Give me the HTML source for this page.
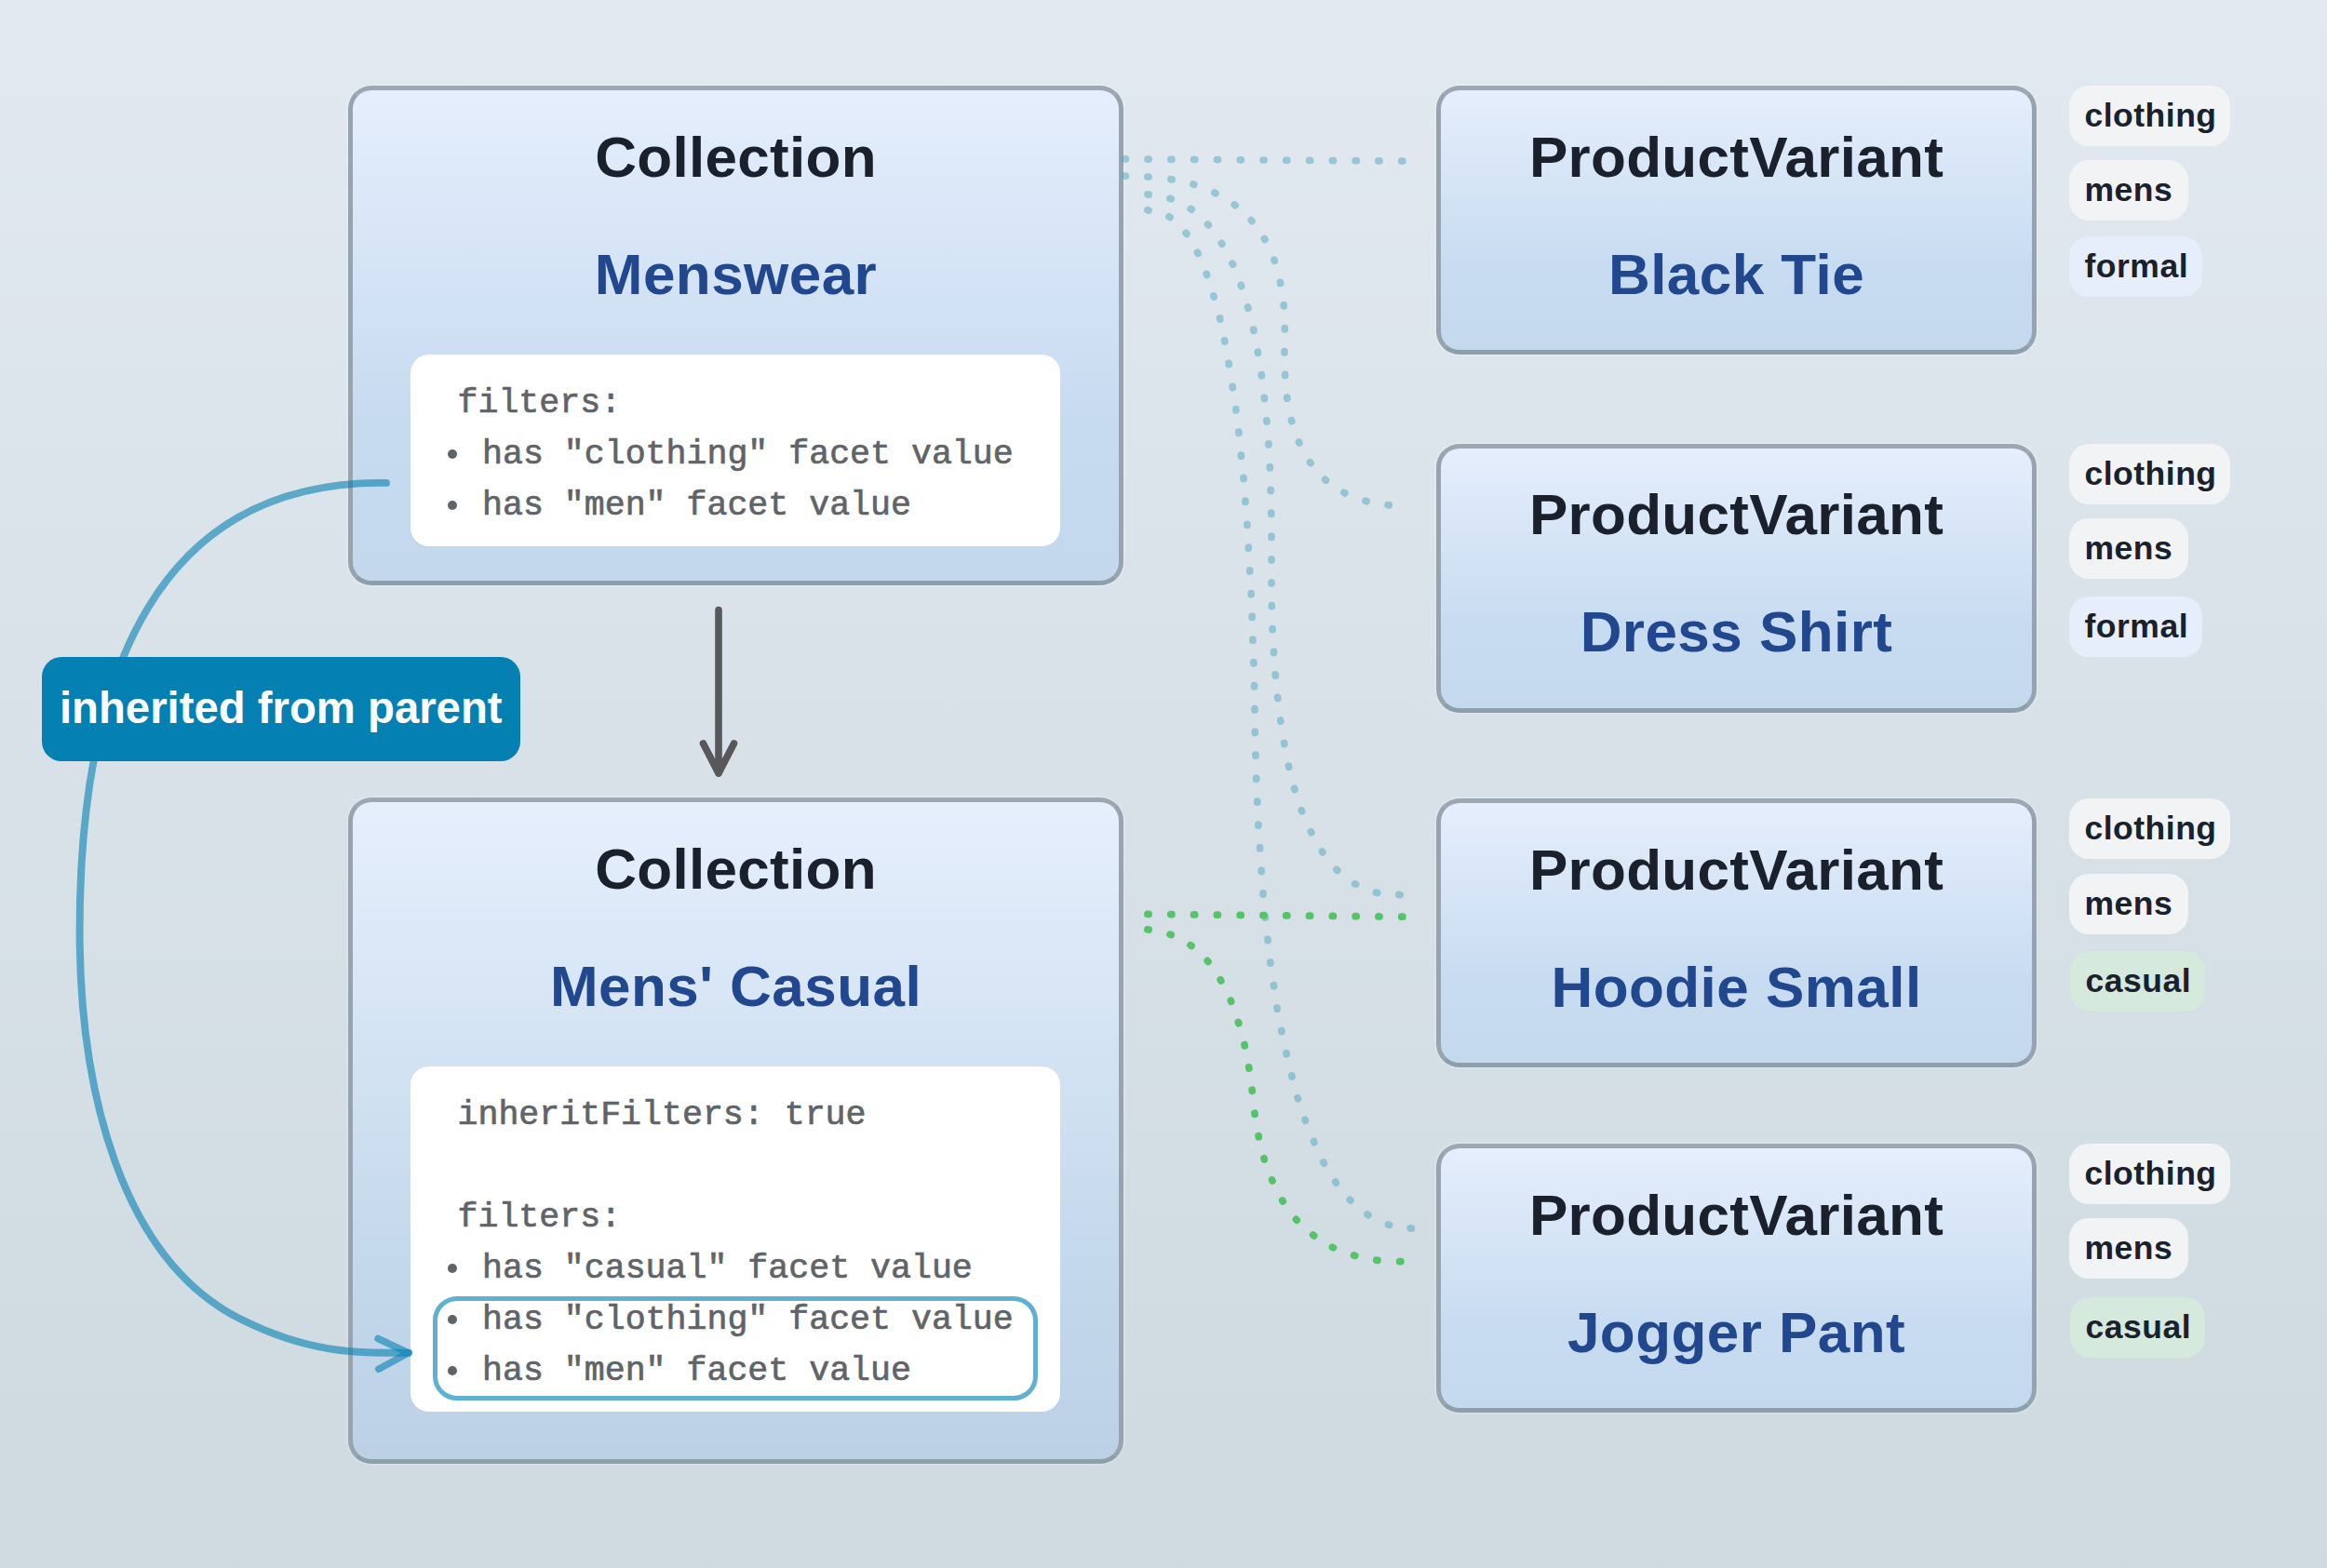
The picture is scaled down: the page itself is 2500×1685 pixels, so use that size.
<!DOCTYPE html>
<html><head><meta charset="utf-8"><title>Collection filter inheritance</title>
<style>
html,body{margin:0;padding:0}
body{width:2500px;height:1685px;position:relative;overflow:hidden;
 background:linear-gradient(to bottom,#e2e9f0 0%,#ced9e0 100%);
 font-family:"Liberation Sans",sans-serif}
.box{position:absolute;box-sizing:border-box;border:5px solid #97a4af;border-top-color:#9ba8b3;border-bottom-color:#8e9fac;border-radius:25px;
 background:linear-gradient(to bottom,#e5eefc 0%,#c7dbf0 67%,#c3d7ed 100%);box-shadow:0 0 2px 1px rgba(255,255,255,.35)}
.coll{left:374px;width:833px}
.coll.c2{background:linear-gradient(to bottom,#e6effc 0%,#c5d9ec 67%,#bcd1e6 100%)}
.pv{left:1543px;width:645px;height:289px;background:linear-gradient(to bottom,#e5eefc 0%,#c8dcf1 67%,#c4d8ee 100%)}
.h1,.h2{position:absolute;left:0;right:0;text-align:center;font-weight:bold;font-size:62px;line-height:62px;white-space:nowrap;letter-spacing:.3px}
.h1{top:40.8px;color:#1a202c}
.h2{top:166.5px;color:#21478f;letter-spacing:.45px}
.code{position:absolute;left:62px;top:284px;width:698px;box-sizing:border-box;background:#fff;border-radius:20px;
 padding:25px 0 16px;-webkit-text-stroke:.7px #5f6468;font-family:"Liberation Mono",monospace;font-size:36.6px;line-height:55px;color:#5f6468;white-space:pre}
.code div{height:55px;padding-left:50.5px;position:relative}
.code .li{padding-left:77px}
.code .li:before{content:"";position:absolute;left:40px;top:22px;width:10px;height:10px;border-radius:50%;background:#5f6468}
.hl{position:absolute;left:24px;width:650px;height:112px;box-sizing:border-box;border:5px solid #5fb0d1;border-radius:26px}
.tag{position:absolute;left:2223px;height:65px;line-height:64px;box-sizing:border-box;padding:0 0 0 16.5px;letter-spacing:.5px;border-radius:21px;background:#f2f3f4;
 color:#1a202c;font-weight:bold;font-size:35.5px;white-space:nowrap}
.tag.f{background:#e6eefb}
.tag.c{background:#d5e9dc;left:2224px}
.label{position:absolute;left:44.5px;top:706px;width:514.5px;height:112px;border-radius:21px;background:#0580b2;color:#fff;
 font-weight:bold;font-size:47.3px;line-height:109.5px;text-align:center;white-space:nowrap}
svg{position:absolute;left:0;top:0}
</style></head><body>

<div class="box coll " style="top:92px;height:537px">
<div class="h1">Collection</div><div class="h2">Menswear</div>
<div class="code"><div>filters:</div><div class="li">has "clothing" facet value</div><div class="li">has "men" facet value</div></div></div>
<div class="box coll c2" style="top:857px;height:715.5px">
<div class="h1">Collection</div><div class="h2">Mens' Casual</div>
<div class="code"><div>inheritFilters: true</div><div> </div><div>filters:</div><div class="li">has "casual" facet value</div><div class="li">has "clothing" facet value</div><div class="li">has "men" facet value</div><span class="hl" style="top:246.5px"></span></div></div>

<div class="box pv" style="top:92px"><div class="h1">ProductVariant</div><div class="h2">Black Tie</div></div>
<div class="tag " style="top:92px;width:172.5px">clothing</div>
<div class="tag " style="top:172px;width:127.7px">mens</div>
<div class="tag f" style="top:254px;width:143px">formal</div>

<div class="box pv" style="top:476.5px"><div class="h1">ProductVariant</div><div class="h2">Dress Shirt</div></div>
<div class="tag " style="top:476.5px;width:172.5px">clothing</div>
<div class="tag " style="top:557px;width:127.7px">mens</div>
<div class="tag f" style="top:641px;width:143px">formal</div>

<div class="box pv" style="top:858px"><div class="h1">ProductVariant</div><div class="h2">Hoodie Small</div></div>
<div class="tag " style="top:858px;width:172.5px">clothing</div>
<div class="tag " style="top:939px;width:127.7px">mens</div>
<div class="tag c" style="top:1022px;width:145px">casual</div>

<div class="box pv" style="top:1229px"><div class="h1">ProductVariant</div><div class="h2">Jogger Pant</div></div>
<div class="tag " style="top:1229px;width:172.5px">clothing</div>
<div class="tag " style="top:1309px;width:127.7px">mens</div>
<div class="tag c" style="top:1393.5px;width:145px">casual</div>


<svg width="2500" height="1685" viewBox="0 0 2500 1685" fill="none" stroke-linecap="round" stroke-linejoin="round">
<path d="M1208.2 170.9L1209.4 170.9M1233.0 171.1L1234.2 171.1M1257.8 171.3L1259.0 171.3M1282.6 171.4L1283.8 171.5M1307.4 171.6L1308.6 171.6M1332.2 171.8L1333.4 171.8M1357.0 172.0L1358.1 172.0M1381.7 172.2L1382.9 172.2M1406.5 172.4L1407.7 172.4M1431.3 172.5L1432.5 172.6M1456.1 172.7L1457.3 172.7M1480.9 172.9L1482.1 172.9M1505.7 173.1L1506.9 173.1M1208.2 189.1L1209.4 189.1M1232.9 190.0L1234.1 190.0M1257.9 192.7L1259.1 192.9M1281.7 197.9L1282.9 198.3M1304.9 207.1L1305.9 207.7M1326.2 219.9L1327.2 220.7M1344.2 236.6L1345.0 237.6M1358.4 256.5L1359.0 257.5M1368.9 279.2L1369.3 280.4M1375.4 303.3L1375.6 304.5M1379.1 327.7L1379.3 328.9M1380.3 352.7L1380.3 353.9M1380.0 377.7L1380.0 378.9M1380.6 402.4L1380.6 403.6M1382.7 427.1L1382.9 428.3M1387.4 451.5L1387.8 452.7M1395.5 474.9L1395.9 475.9M1407.5 496.8L1408.1 497.8M1423.7 515.4L1424.5 516.2M1443.8 529.3L1444.8 529.9M1467.0 538.3L1468.2 538.7M1491.1 542.7L1492.3 542.9M1232.9 208.9L1234.1 209.1M1257.0 213.3L1258.2 213.7M1279.3 224.5L1280.3 225.1M1297.6 241.2L1298.4 242.0M1312.3 261.3L1312.9 262.3M1323.9 283.2L1324.5 284.2M1333.2 306.4L1333.6 307.6M1340.5 330.0L1340.9 331.2M1346.8 354.1L1347.0 355.3M1351.3 378.2L1351.5 379.4M1355.2 402.7L1355.4 403.9M1358.3 427.4L1358.5 428.6M1360.8 451.8L1361.0 453.0M1362.9 476.8L1362.9 478.0M1364.3 501.7L1364.3 502.9M1365.1 526.4L1365.1 527.6M1365.7 551.2L1365.7 552.4M1366.0 576.2L1366.0 577.4M1366.0 600.9L1366.0 602.1M1366.0 625.8L1366.0 627.0M1366.3 650.5L1366.3 651.7M1367.1 675.5L1367.1 676.7M1368.5 700.2L1368.5 701.4M1370.1 724.9L1370.3 726.1M1372.6 749.3L1372.8 750.5M1375.7 774.0L1375.9 775.2M1379.6 798.5L1379.8 799.7M1384.4 823.1L1384.6 824.3M1390.5 847.3L1390.9 848.5M1398.3 870.6L1398.7 871.8M1408.3 893.7L1408.9 894.7M1420.4 915.0L1421.0 916.0M1436.0 934.5L1436.8 935.3M1455.6 949.7L1456.6 950.3M1478.5 959.2L1479.7 959.4M1502.9 961.5L1504.1 961.7M1232.9 225.7L1234.1 226.1M1256.0 232.9L1257.0 233.5M1274.1 250.4L1274.9 251.4M1286.5 271.4L1287.1 272.4M1296.2 294.3L1296.6 295.5M1303.8 317.9L1304.2 319.1M1310.6 342.0L1310.8 343.2M1315.6 365.9L1315.8 367.1M1320.1 390.3L1320.3 391.5M1324.1 415.3L1324.3 416.5M1327.7 439.7L1327.9 440.9M1330.8 464.1L1331.0 465.3M1333.3 489.1L1333.5 490.3M1335.9 513.5L1336.1 514.7M1337.9 538.2L1337.9 539.4M1339.9 563.3L1339.9 564.5M1341.3 588.0L1341.3 589.2M1342.7 612.9L1342.7 614.1M1344.1 637.6L1344.1 638.8M1345.2 662.3L1345.2 663.5M1346.0 687.0L1346.0 688.2M1346.9 711.7L1346.9 712.9M1347.5 736.7L1347.5 737.9M1348.0 761.7L1348.0 762.9M1348.3 786.4L1348.3 787.6M1348.9 811.1L1348.9 812.3M1349.7 836.1L1349.7 837.3M1350.8 861.0L1350.8 862.2M1351.9 886.0L1351.9 887.2M1353.6 910.7L1353.6 911.9M1355.3 935.4L1355.3 936.6M1357.0 959.9L1357.0 961.1M1359.1 984.9L1359.3 986.1M1361.9 1009.3L1362.1 1010.5M1364.7 1034.0L1364.9 1035.2M1368.4 1058.7L1368.6 1059.9M1372.0 1083.1L1372.2 1084.3M1376.8 1107.5L1377.0 1108.7M1381.9 1131.7L1382.1 1132.9M1387.8 1155.8L1388.0 1157.0M1394.1 1179.6L1394.5 1180.8M1402.0 1203.2L1402.4 1204.4M1411.5 1226.5L1411.9 1227.7M1421.8 1249.1L1422.4 1250.1M1434.7 1270.1L1435.3 1271.1M1450.3 1289.3L1451.1 1290.1M1469.0 1305.1L1470.0 1305.7M1491.4 1315.9L1492.6 1316.3M1515.2 1319.9L1516.4 1320.1" stroke="rgba(84,168,192,0.52)" stroke-width="7.7"/>
<path d="M1232.9 982.4L1234.1 982.4M1257.7 982.6L1258.9 982.7M1282.5 982.9L1283.7 982.9M1307.3 983.2L1308.5 983.2M1332.1 983.4L1333.3 983.4M1356.9 983.7L1358.1 983.7M1381.7 983.9L1382.9 983.9M1406.5 984.2L1407.7 984.2M1431.3 984.4L1432.5 984.4M1456.1 984.7L1457.3 984.7M1480.9 984.9L1482.1 985.0M1505.7 985.2L1506.9 985.2M1232.9 998.8L1234.1 999.0M1257.0 1004.1L1258.2 1004.5M1279.0 1015.8L1280.0 1016.4M1297.1 1032.4L1297.9 1033.4M1311.2 1052.9L1311.8 1053.9M1322.3 1075.2L1322.7 1076.4M1330.4 1098.5L1330.8 1099.7M1337.0 1122.7L1337.2 1123.9M1341.7 1146.8L1341.9 1148.0M1345.1 1171.2L1345.3 1172.4M1347.9 1196.2L1348.1 1197.4M1352.1 1220.6L1352.3 1221.8M1357.9 1244.8L1358.3 1246.0M1366.6 1267.9L1367.0 1268.9M1377.7 1290.0L1378.3 1291.0M1392.5 1310.4L1393.3 1311.2M1410.7 1327.2L1411.7 1328.0M1431.4 1340.2L1432.4 1340.8M1454.6 1349.0L1455.8 1349.4M1478.8 1354.2L1480.0 1354.4M1503.7 1355.7L1504.9 1355.7" stroke="#55c468" stroke-width="7.7"/>
<path d="M772 655.5V831M755.5 799L772 831L788.5 799" stroke="#58585a" stroke-width="7.6"/>
<path d="M415 518.9C172.7 515.8 85.6 717.6 85.6 1000.5C85.6 1170.3 129.4 1351.9 257.5 1417.1C334.3 1456 388.8 1453.8 439 1453.8" stroke="rgba(5,128,178,0.6)" stroke-width="7.9"/>
<path d="M406.1 1438.5L439 1453.8L406.8 1471.3" stroke="rgba(5,128,178,0.6)" stroke-width="7.5"/>
</svg>
<div class="label">inherited from parent</div>
</body></html>
